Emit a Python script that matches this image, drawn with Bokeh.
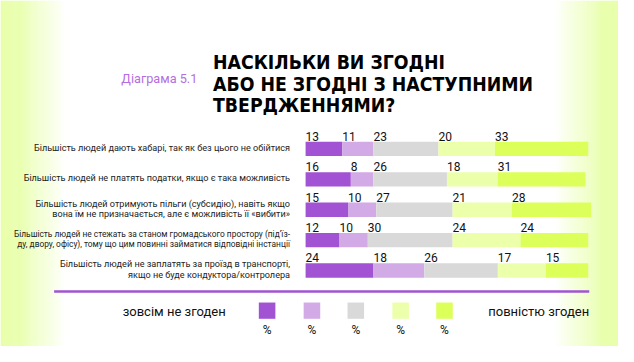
from bokeh.plotting import figure
from bokeh.models import Range1d, ColumnDataSource
from bokeh.core.properties import value
from bokeh.embed import file_html
from bokeh.resources import INLINE
import numpy as np

statements = [
    "Більшість людей дають хабарі, так як без цього не обійтися",
    "Більшість людей не платять податки, якщо є така можливість",
    "Більшість людей отримують пільги (субсидію), навіть якщо\nвона їм не призначається, але є можливість її «вибити»",
    "Більшість людей не стежать за станом громадського простору (під’їз-\nду, двору, офісу), тому що цим повинні займатися відповідні інстанції",
    "Більшість людей не заплатять за проїзд в транспорті,\nякщо не буде кондуктора/контролера",
]
strongly_disagree = [13, 16, 15, 12, 24]
disagree = [11, 8, 10, 10, 18]
neutral = [23, 26, 27, 30, 26]
agree = [20, 18, 21, 24, 17]
strongly_agree = [33, 31, 28, 24, 15]
series = [strongly_disagree, disagree, neutral, agree, strongly_agree]
colors = ["#a153d3", "#d2aae6", "#d9d9d9", "#ecffab", "#dcff5a"]
title_lines = ["НАСКІЛЬКИ ВИ ЗГОДНІ", "АБО НЕ ЗГОДНІ З НАСТУПНИМИ", "ТВЕРДЖЕННЯМИ?"]
diagram_label = "Діаграма 5.1"
legend_left = "зовсім не згоден"
legend_right = "повністю згоден"

W, H = 618, 346
X0, PXU = 313.0, 2.9     # reference px of value 0, px per percent
Y0, ROW = 155.3, 31.8    # reference px of first row centre, row pitch


def dx(X):
    return (X - X0) / PXU


def dy(Y):
    return (Y - Y0) / ROW


p = figure(width=W, height=H, output_backend="svg", toolbar_location=None,
           x_range=Range1d(dx(0), dx(634)), y_range=Range1d(dy(362), dy(0)),
           x_axis_location=None, y_axis_location=None, min_border=0)
p.grid.visible = False
p.outline_line_color = None
p.background_fill_color = "white"
p.border_fill_color = "white"

# background side gradients
cols = np.arange(0, 634, 1.0)
alpha = np.zeros_like(cols)
left = cols < 66
alpha[left] = 1 - cols[left] / 66
right = cols > 568
alpha[right] = (cols[right] - 568) / 66
m = alpha > 0
gsrc = ColumnDataSource(dict(l=[dx(c) for c in cols[m]], r=[dx(c + 1.1) for c in cols[m]],
                             a=alpha[m]))
p.quad(left="l", right="r", top=dy(0), bottom=dy(362), source=gsrc,
       fill_color="#e2ff94", fill_alpha="a", line_color=None)

rows = list(range(len(statements)))
cum = np.zeros(len(rows))
for vals, c in zip(series, colors):
    vals = np.array(vals, dtype=float)
    lefts = cum.copy()
    rights = cum + vals
    p.hbar(y=rows, left=lefts, right=rights, height=15 / ROW, fill_color=c, line_color=None)
    p.text(x=lefts, y=[r - 7.5 / ROW - 1 / ROW for r in rows], text=[str(int(v)) for v in vals],
           text_font=value("Roboto"), text_font_size="12px", text_color="#111111",
           text_baseline="bottom", text_align="left")
    cum = rights

lsrc = ColumnDataSource(dict(x=[dx(297)] * len(rows), y=[r - 1 / ROW for r in rows],
                             t=statements, fs=["9.1px", "9.1px", "9.1px", "8.4px", "9.1px"]))
p.text(x="x", y="y", text="t", source=lsrc,
       text_font=value("Roboto"), text_font_size="fs", text_color="#222222",
       text_align="right", text_baseline="middle", text_line_height=1.05)

# title
p.text(x=[dx(218)] * 3, y=[dy(65), dy(87.5), dy(110)], text=title_lines,
       text_font=value("DejaVu Sans Condensed"), text_font_style="bold",
       text_font_size="19.3px", text_color="#000000", text_baseline="alphabetic")
p.text(x=[dx(124)], y=[dy(82)], text=[diagram_label], text_font=value("Roboto"),
       text_font_size="12.7px", text_color="#b46ee0", text_baseline="middle")

# separator
p.segment(x0=[dx(55)], x1=[dx(604)], y0=[dy(304.5)], y1=[dy(304.5)],
          line_color="#a153d3", line_width=2.4)

# legend
cx = [273.5, 319.5, 364.5, 410.5, 455.5]
p.quad(left=[dx(c - 8.5) for c in cx], right=[dx(c + 8.5) for c in cx],
       top=[dy(316)] * 5, bottom=[dy(333)] * 5, fill_color=colors, line_color=None)
p.text(x=[dx(c) for c in cx], y=[dy(345)] * 5, text=["%"] * 5, text_font=value("Roboto"),
       text_font_size="12px", text_color="#111111", text_align="center", text_baseline="middle")
p.text(x=[dx(231)], y=[dy(325)], text=[legend_left], text_font=value("Roboto"),
       text_font_size="13px", text_color="#111111", text_align="right", text_baseline="middle")
p.text(x=[dx(604)], y=[dy(325)], text=[legend_right], text_font=value("Roboto"),
       text_font_size="13px", text_color="#111111", text_align="right", text_baseline="middle")

open("out.html", "w").write(file_html(p, INLINE))
